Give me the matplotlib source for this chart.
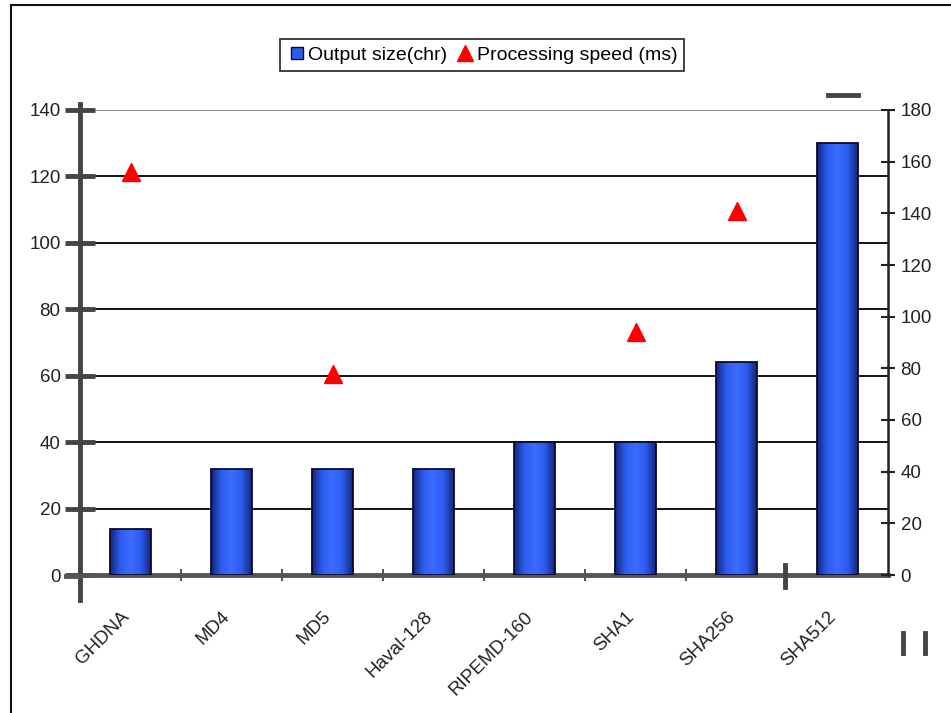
"""Bar chart of hash output size with processing speed markers on a second axis."""

import numpy as np
import matplotlib.pyplot as plt
import matplotlib.transforms as mtransforms
from matplotlib.lines import Line2D
from matplotlib.colors import LinearSegmentedColormap

algorithms = ['GHDNA', 'MD4', 'MD5', 'Haval-128', 'RIPEMD-160', 'SHA1', 'SHA256', 'SHA512']
output_size = [14, 32, 32, 32, 40, 40, 64, 130]
# processing speed only measured for some of them
speed_names = ['GHDNA', 'MD5', 'SHA1', 'SHA256']
speed_ms = [156, 78, 94, 141]

left_ticks = [0, 20, 40, 60, 80, 100, 120, 140]
right_ticks = [0, 20, 40, 60, 80, 100, 120, 140, 160, 180]

plt.rcParams['font.family'] = ['Liberation Sans', 'DejaVu Sans']

W, H = 951, 713
fig = plt.figure(figsize=(W / 100, H / 100), dpi=100)
ax = fig.add_axes([80 / W, 1 - 575 / H, 808 / W, 465 / H])
ax2 = ax.twinx()

x = np.arange(len(algorithms))

# Bars with a left-right shading like the old Excel look
bars = ax.bar(x, output_size, width=0.4, color='#2b55e0', edgecolor='#0a0a30',
              linewidth=1.3, zorder=3)
cmap = LinearSegmentedColormap.from_list('blu', ['#14267a', '#2d5cf0', '#3a6cff', '#2d5cf0', '#14267a'])
grad = np.linspace(0, 1, 64).reshape(1, -1)
for b in bars:
    bx, by = b.get_x(), b.get_y()
    im = ax.imshow(grad, cmap=cmap, aspect='auto', zorder=3.5,
                   extent=[bx, bx + b.get_width(), by, by + b.get_height()])
    im.set_clip_path(b)
    b.set_facecolor('none')
    b.set_zorder(4)
ax.set_xlim(-0.5, len(algorithms) - 0.5)
ax.set_ylim(0, 140)
ax2.set_ylim(0, 180)

# grid lines
for t in left_ticks[1:-1]:
    ax.axhline(t, xmin=0.018, xmax=1, color='black', lw=1.3, zorder=1)
ax.axhline(140, xmin=0.018, xmax=1, color='#777777', lw=1.2, zorder=1)

# triangles on the secondary axis
sx = [algorithms.index(n) for n in speed_names]
ax2.plot(sx, speed_ms, linestyle='none', marker='^', color='#ff0000',
         markersize=13, zorder=5)

# axes styling
ax.set_yticks(left_ticks)
ax.set_yticklabels([str(t) for t in left_ticks])
ax.tick_params(axis='y', direction='inout', length=22, width=3.5, color='#444444',
               labelsize=13.5, labelcolor='#222222', pad=3)
ax.set_xticks(x)
ax.set_xticklabels(algorithms, rotation=45, ha='right', rotation_mode='anchor')
ax.tick_params(axis='x', length=0, labelsize=13.5, labelcolor='#222222', pad=24)
shift = mtransforms.ScaledTranslation(-10 / 100, 0, fig.dpi_scale_trans)
for lab in ax.get_xticklabels():
    lab.set_transform(lab.get_transform() + shift)
ax.set_xticks(np.arange(0.5, len(algorithms) - 0.5, 1), minor=True)
ax.tick_params(axis='x', which='minor', direction='inout', length=8, width=1.2,
               color='#333333')

ax2.set_yticks(right_ticks)
ax2.tick_params(axis='y', direction='inout', length=10, width=1.5, color='#222222',
                labelsize=13.5, labelcolor='#222222', pad=4)

for a in (ax, ax2):
    a.spines['top'].set_visible(False)
ax.spines['right'].set_visible(False)
ax2.spines['left'].set_visible(False)
ax2.spines['bottom'].set_visible(False)
ax.spines['left'].set_linewidth(3.5)
ax.spines['left'].set_color('#444444')
ax.spines['bottom'].set_linewidth(3.5)
ax.spines['bottom'].set_color('#555555')
ax2.spines['right'].set_linewidth(1.8)
ax2.spines['right'].set_color('#222222')

# scan leftovers: spine tails and stray marks
fig.add_artist(Line2D([80 / W, 80 / W], [1 - 600 / H, 1 - 575 / H], color='#444444', lw=3.5))
fig.add_artist(Line2D([80 / W, 80 / W], [1 - 110 / H, 1 - 104 / H], color='#444444', lw=3.5))
fig.add_artist(Line2D([66 / W, 80 / W], [1 - 576 / H, 1 - 576 / H], color='#555555', lw=3.5))
fig.add_artist(Line2D([785 / W, 785 / W], [1 - 587 / H, 1 - 565 / H], color='#444444', lw=3.5))
fig.add_artist(Line2D([828 / W, 858 / W], [1 - 95 / H, 1 - 95 / H], color='#444444', lw=3.5))
fig.add_artist(Line2D([903 / W, 903 / W], [1 - 653 / H, 1 - 633 / H], color='#444444', lw=3.5))
fig.add_artist(Line2D([925 / W, 925 / W], [1 - 653 / H, 1 - 633 / H], color='#444444', lw=3.5))
# page frame (left and top only)
fig.add_artist(Line2D([11 / W, 11 / W], [0, 1 - 5 / H], color='#111111', lw=1.5))
fig.add_artist(Line2D([11 / W, 1], [1 - 5 / H, 1 - 5 / H], color='#111111', lw=1.5))

# legend
handles = [Line2D([], [], linestyle='none', marker='s', markersize=9,
                  markerfacecolor='#2d5cf0', markeredgecolor='#0a0a30'),
           Line2D([], [], linestyle='none', marker='^', markersize=12, color='#ff0000')]
leg = fig.legend(handles, ['Output size(chr)', 'Processing speed (ms)'], ncol=2,
                 loc='center', bbox_to_anchor=(482 / W, 1 - 55 / H), fontsize=14,
                 frameon=True, fancybox=False, handletextpad=0.1, columnspacing=0.4,
                 handlelength=1.0, borderpad=0.35)
leg.get_frame().set_edgecolor('black')
leg.get_frame().set_linewidth(1.3)

fig.savefig('out.png', dpi=100)
